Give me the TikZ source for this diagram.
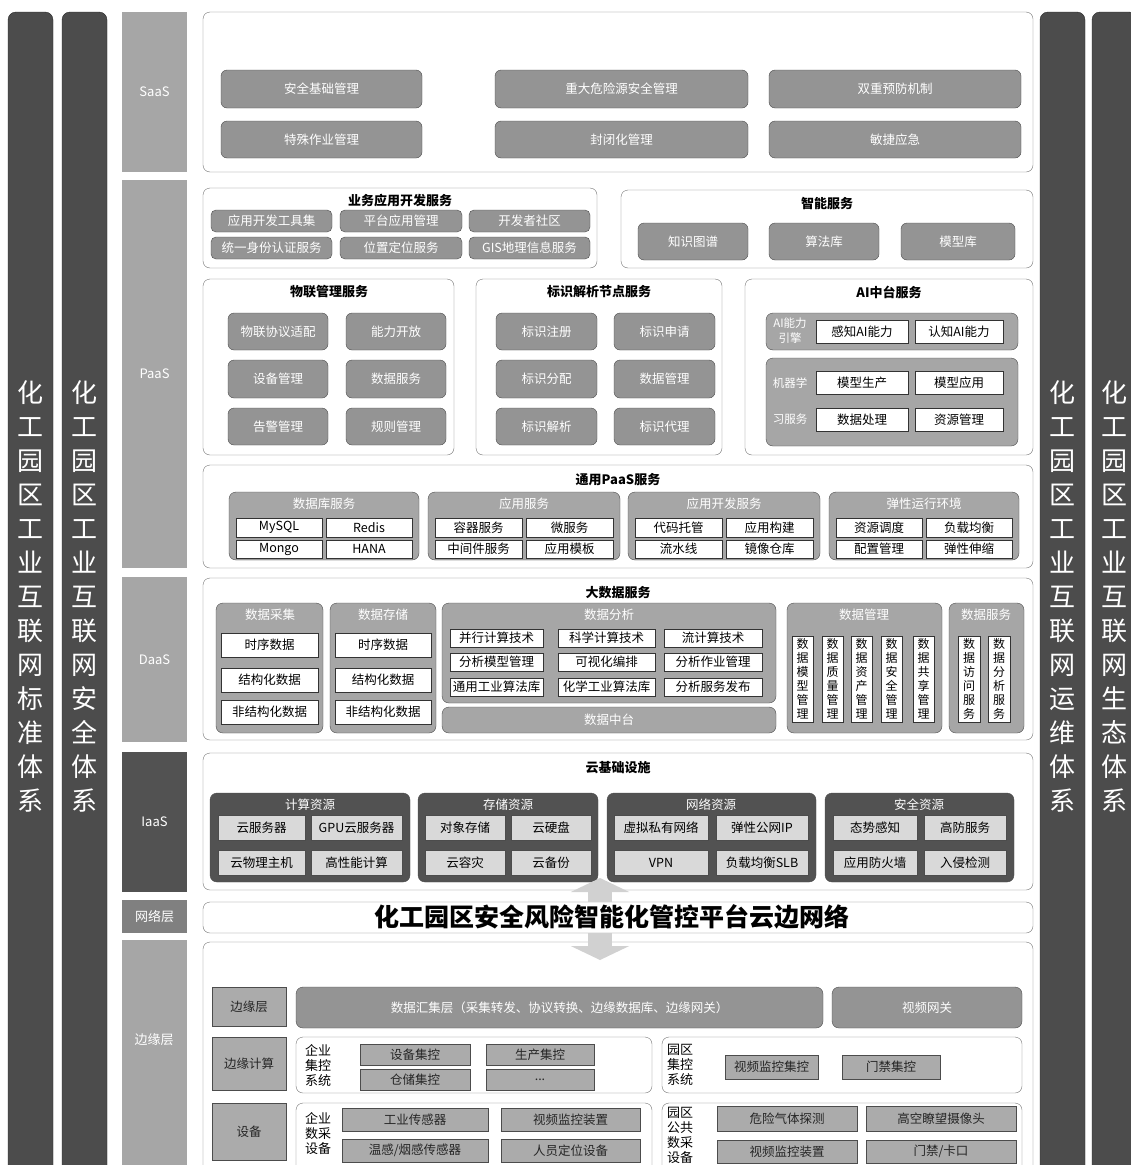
\documentclass[tikz,border=0pt]{standalone}
\usepackage{fontspec}
\setmainfont{Noto Sans CJK SC}
\usetikzlibrary{positioning, arrows.meta}

% box from corner (#3,#4) to corner (#5,#6), in pixels of the picture
\newcommand{\blk}[7][]{%
  \pgfmathsetmacro{\blkw}{#5-#3}\pgfmathsetmacro{\blkh}{#6-#4}%
  \node[minimum width=\blkw pt, minimum height=\blkh pt, #1] (#2) at ({(#3+#5)/2},{(#4+#6)/2}) {#7};}

\begin{document}
\begin{tikzpicture}[x=1pt, y=-1pt,
    every node/.style={align=center, inner sep=1pt, font=\fontsize{12.5}{15}\selectfont},
    bar/.style={draw=black!85, fill=black!70, rounded corners=8pt, text=white, font=\fontsize{26}{34}\selectfont},
    layer/.style={fill=black!35, text=white, font=\fontsize{13}{15}\selectfont},
    panel/.style={draw=black!55, fill=white, rounded corners=7pt},
    head/.style={font=\bfseries\fontsize{13}{15}\selectfont},
    gbox/.style={draw=black!70, fill=black!42, rounded corners=6pt, text=white},
    group/.style={draw=black!70, fill=black!35, rounded corners=7pt},
    ghead/.style={text=white},
    wbox/.style={draw=black!80, fill=white},
    vbox/.style={wbox, font=\fontsize{12}{14}\selectfont},
    dgroup/.style={group, fill=black!68},
    lbox/.style={draw=black!70, fill=black!15},
    ebox/.style={draw=black!70, fill=black!33, text=black!85},
    elabel/.style={font=\fontsize{13}{15}\selectfont},
    flow/.style={draw=black!18, line width=24pt, -{Triangle[length=14pt, width=58pt]}}
]
\useasboundingbox (0,0) rectangle (1131,1165);
\fill[white] (0,0) rectangle (1131,1165);

% side systems
\blk[bar]{standard}{8}{12}{53}{1180}{化\\工\\园\\区\\工\\业\\互\\联\\网\\标\\准\\体\\系}
\blk[bar]{security}{62}{12}{107}{1180}{化\\工\\园\\区\\工\\业\\互\\联\\网\\安\\全\\体\\系}
\blk[bar]{operation}{1040}{12}{1085}{1180}{化\\工\\园\\区\\工\\业\\互\\联\\网\\运\\维\\体\\系}
\blk[bar]{ecology}{1092}{12}{1137}{1180}{化\\工\\园\\区\\工\\业\\互\\联\\网\\生\\态\\体\\系}

% layer labels
\blk[layer]{lsaas}{122}{12}{187}{172}{SaaS}
\blk[layer]{lpaas}{122}{180}{187}{568}{PaaS}
\blk[layer]{ldaas}{122}{577}{187}{742}{DaaS}
\blk[layer, fill=black!68]{liaas}{122}{752}{187}{892}{IaaS}
\blk[layer, fill=black!50]{lnet}{122}{900}{187}{933}{网络层}
\blk[layer]{ledge}{122}{940}{187}{1180}{}
\node[layer, fill=none] (ledgeT) at (154,1040) {边缘层};

% SaaS
\blk[panel]{saas}{203}{12}{1033}{172}{}
\blk[gbox]{s1}{221}{70}{422}{108}{安全基础管理}
\blk[gbox]{s2}{495}{70}{748}{108}{重大危险源安全管理}
\blk[gbox]{s3}{769}{70}{1021}{108}{双重预防机制}
\blk[gbox]{s4}{221}{121}{422}{158}{特殊作业管理}
\blk[gbox]{s5}{495}{121}{748}{158}{封闭化管理}
\blk[gbox]{s6}{769}{121}{1021}{158}{敏捷应急}

% PaaS: business application development
\blk[panel]{appdev}{203}{188}{597}{268}{}
\node[head] (appdevT) at (400,201) {业务应用开发服务};
\blk[gbox, rounded corners=5pt]{a1}{211}{210}{332}{232}{应用开发工具集}
\blk[gbox, rounded corners=5pt]{a2}{340}{210}{462}{232}{平台应用管理}
\blk[gbox, rounded corners=5pt]{a3}{469}{210}{590}{232}{开发者社区}
\blk[gbox, rounded corners=5pt]{a4}{211}{237}{332}{259}{统一身份认证服务}
\blk[gbox, rounded corners=5pt]{a5}{340}{237}{462}{259}{位置定位服务}
\blk[gbox, rounded corners=5pt]{a6}{469}{237}{590}{259}{GIS地理信息服务}

% PaaS: intelligent services
\blk[panel]{smart}{621}{190}{1033}{268}{}
\node[head] (smartT) at (827,204) {智能服务};
\blk[gbox]{i1}{638}{223}{748}{260}{知识图谱}
\blk[gbox]{i2}{769}{223}{879}{260}{算法库}
\blk[gbox]{i3}{901}{223}{1015}{260}{模型库}

% PaaS: IoT management
\blk[panel]{iot}{203}{279}{454}{455}{}
\node[head] (iotT) at (329,292) {物联管理服务};
\blk[gbox]{o1}{228}{313}{328}{350}{物联协议适配}
\blk[gbox]{o2}{346}{313}{446}{350}{能力开放}
\blk[gbox]{o3}{228}{360}{328}{398}{设备管理}
\blk[gbox]{o4}{346}{360}{446}{398}{数据服务}
\blk[gbox]{o5}{228}{408}{328}{445}{告警管理}
\blk[gbox]{o6}{346}{408}{446}{445}{规则管理}

% PaaS: identifier resolution
\blk[panel]{ident}{476}{279}{722}{455}{}
\node[head] (identT) at (599,292) {标识解析节点服务};
\blk[gbox]{d1}{496}{313}{597}{350}{标识注册}
\blk[gbox]{d2}{614}{313}{715}{350}{标识申请}
\blk[gbox]{d3}{496}{360}{597}{398}{标识分配}
\blk[gbox]{d4}{614}{360}{715}{398}{数据管理}
\blk[gbox]{d5}{496}{408}{597}{445}{标识解析}
\blk[gbox]{d6}{614}{408}{715}{445}{标识代理}

% PaaS: AI platform
\blk[panel]{ai}{745}{279}{1033}{455}{}
\node[head] (aiT) at (889,292) {AI中台服务};
\blk[group]{aiengine}{766}{313}{1018}{350}{}
\node[ghead, font=\fontsize{11.5}{15}\selectfont] (aiengineT) at (790,331) {AI能力\\引擎};
\blk[wbox]{ai1}{816}{320}{908}{343}{感知AI能力}
\blk[wbox]{ai2}{915}{320}{1003}{343}{认知AI能力}
\blk[group]{ml}{766}{358}{1018}{446}{}
\node[ghead, font=\fontsize{11.5}{36}\selectfont] (mlT) at (790,401) {机器学\\习服务};
\blk[wbox]{ml1}{816}{371}{908}{394}{模型生产}
\blk[wbox]{ml2}{915}{371}{1003}{394}{模型应用}
\blk[wbox]{ml3}{816}{408}{908}{431}{数据处理}
\blk[wbox]{ml4}{915}{408}{1003}{431}{资源管理}

% PaaS: general services
\blk[panel]{gpaas}{203}{465}{1033}{568}{}
\node[head] (gpaasT) at (618,480) {通用PaaS服务};
\blk[group]{db}{229}{492}{419}{560}{}
\node[ghead] (dbT) at (324,504) {数据库服务};
\blk[wbox]{db1}{236}{518}{322}{537}{MySQL}
\blk[wbox]{db2}{326}{518}{412}{537}{Redis}
\blk[wbox]{db3}{236}{540}{322}{558}{Mongo}
\blk[wbox]{db4}{326}{540}{412}{558}{HANA}
\blk[group]{apps}{428}{492}{620}{560}{}
\node[ghead] (appsT) at (524,504) {应用服务};
\blk[wbox]{ap1}{435}{518}{522}{537}{容器服务}
\blk[wbox]{ap2}{526}{518}{613}{537}{微服务}
\blk[wbox]{ap3}{435}{540}{522}{558}{中间件服务}
\blk[wbox]{ap4}{526}{540}{613}{558}{应用模板}
\blk[group]{devops}{628}{492}{820}{560}{}
\node[ghead] (devopsT) at (724,504) {应用开发服务};
\blk[wbox]{dv1}{635}{518}{722}{537}{代码托管}
\blk[wbox]{dv2}{726}{518}{813}{537}{应用构建}
\blk[wbox]{dv3}{635}{540}{722}{558}{流水线}
\blk[wbox]{dv4}{726}{540}{813}{558}{镜像仓库}
\blk[group]{runtime}{829}{492}{1019}{560}{}
\node[ghead] (runtimeT) at (924,504) {弹性运行环境};
\blk[wbox]{rt1}{836}{518}{922}{537}{资源调度}
\blk[wbox]{rt2}{926}{518}{1012}{537}{负载均衡}
\blk[wbox]{rt3}{836}{540}{922}{558}{配置管理}
\blk[wbox]{rt4}{926}{540}{1012}{558}{弹性伸缩}

% DaaS
\blk[panel]{bigdata}{203}{578}{1033}{740}{}
\node[head] (bigdataT) at (618,593) {大数据服务};
\blk[group]{collect}{216}{603}{323}{733}{}
\node[ghead] (collectT) at (270,615) {数据采集};
\blk[wbox]{c1}{221}{633}{318}{657}{时序数据}
\blk[wbox]{c2}{221}{668}{318}{692}{结构化数据}
\blk[wbox]{c3}{221}{700}{318}{724}{非结构化数据}
\blk[group]{store}{330}{603}{436}{733}{}
\node[ghead] (storeT) at (383,615) {数据存储};
\blk[wbox]{t1}{335}{633}{431}{657}{时序数据}
\blk[wbox]{t2}{335}{668}{431}{692}{结构化数据}
\blk[wbox]{t3}{335}{700}{431}{724}{非结构化数据}
\blk[group]{analyse}{442}{603}{776}{703}{}
\node[ghead] (analyseT) at (609,615) {数据分析};
\blk[wbox]{n1}{450}{629}{543}{647}{并行计算技术}
\blk[wbox]{n2}{558}{629}{655}{647}{科学计算技术}
\blk[wbox]{n3}{664}{629}{762}{647}{流计算技术}
\blk[wbox]{n4}{450}{653}{543}{671}{分析模型管理}
\blk[wbox]{n5}{558}{653}{655}{671}{可视化编排}
\blk[wbox]{n6}{664}{653}{762}{671}{分析作业管理}
\blk[wbox]{n7}{450}{678}{543}{696}{通用工业算法库}
\blk[wbox]{n8}{558}{678}{655}{696}{化学工业算法库}
\blk[wbox]{n9}{664}{678}{762}{696}{分析服务发布}
\blk[group]{midplat}{442}{707}{776}{733}{\textcolor{white}{数据中台}}
\blk[group]{govern}{787}{603}{942}{733}{}
\node[ghead] (governT) at (864,615) {数据管理};
\blk[vbox]{g1}{792}{636}{813}{722}{数\\据\\模\\型\\管\\理}
\blk[vbox]{g2}{822}{636}{843}{722}{数\\据\\质\\量\\管\\理}
\blk[vbox]{g3}{851}{636}{872}{722}{数\\据\\资\\产\\管\\理}
\blk[vbox]{g4}{881}{636}{902}{722}{数\\据\\安\\全\\管\\理}
\blk[vbox]{g5}{913}{636}{934}{722}{数\\据\\共\\享\\管\\理}
\blk[group]{dserv}{949}{603}{1024}{733}{}
\node[ghead] (dservT) at (986,615) {数据服务};
\blk[vbox]{v1}{958}{636}{980}{722}{数\\据\\访\\问\\服\\务}
\blk[vbox]{v2}{988}{636}{1010}{722}{数\\据\\分\\析\\服\\务}

% IaaS
\blk[panel]{iaas}{203}{753}{1033}{890}{}
\node[head] (iaasT) at (618,768) {云基础设施};
\blk[dgroup]{compute}{210}{793}{410}{882}{}
\node[ghead] (computeT) at (310,805) {计算资源};
\blk[lbox]{cp1}{218}{815}{305}{840}{云服务器}
\blk[lbox]{cp2}{311}{815}{402}{840}{GPU云服务器}
\blk[lbox]{cp3}{218}{850}{305}{875}{云物理主机}
\blk[lbox]{cp4}{311}{850}{402}{875}{高性能计算}
\blk[dgroup]{storage}{418}{793}{598}{882}{}
\node[ghead] (storageT) at (508,805) {存储资源};
\blk[lbox]{sg1}{425}{815}{505}{840}{对象存储}
\blk[lbox]{sg2}{511}{815}{591}{840}{云硬盘}
\blk[lbox]{sg3}{425}{850}{505}{875}{云容灾}
\blk[lbox]{sg4}{511}{850}{591}{875}{云备份}
\blk[dgroup]{network}{607}{793}{816}{882}{}
\node[ghead] (networkT) at (711,805) {网络资源};
\blk[lbox]{nw1}{614}{815}{708}{840}{虚拟私有网络}
\blk[lbox]{nw2}{716}{815}{808}{840}{弹性公网IP}
\blk[lbox]{nw3}{614}{850}{708}{875}{VPN}
\blk[lbox]{nw4}{716}{850}{808}{875}{负载均衡SLB}
\blk[dgroup]{secure}{825}{793}{1014}{882}{}
\node[ghead] (secureT) at (919,805) {安全资源};
\blk[lbox]{sc1}{833}{815}{917}{840}{态势感知}
\blk[lbox]{sc2}{924}{815}{1006}{840}{高防服务}
\blk[lbox]{sc3}{833}{850}{917}{875}{应用防火墙}
\blk[lbox]{sc4}{924}{850}{1006}{875}{入侵检测}

% network layer
\blk[panel]{net}{203}{902}{1033}{933}{}
\node[font=\bfseries\fontsize{25}{27}\selectfont] (netT) at (612,917) {化工园区安全风险智能化管控平台云边网络};

% edge layer
\blk[panel]{edge}{203}{942}{1033}{1180}{}
\blk[ebox]{r1}{212}{987}{286}{1026}{边缘层}
\blk[gbox, rounded corners=7pt]{gather}{296}{987}{823}{1028}{数据汇集层（采集转发、协议转换、边缘数据库、边缘网关）}
\blk[gbox, rounded corners=7pt]{vgate}{832}{987}{1022}{1028}{视频网关}
\blk[ebox]{r2}{212}{1037}{286}{1090}{边缘计算}
\blk[panel]{entctl}{296}{1037}{652}{1093}{}
\node[elabel] (entctlT) at (318,1065) {企业\\集控\\系统};
\blk[ebox]{ec1}{360}{1044}{470}{1065}{设备集控}
\blk[ebox]{ec2}{486}{1044}{594}{1065}{生产集控}
\blk[ebox]{ec3}{360}{1069}{470}{1090}{仓储集控}
\blk[ebox]{ec4}{486}{1069}{594}{1090}{...}
\blk[panel]{parkctl}{662}{1037}{1022}{1093}{}
\node[elabel] (parkctlT) at (680,1065) {园区\\集控\\系统};
\blk[ebox]{pc1}{725}{1055}{818}{1079}{视频监控集控}
\blk[ebox]{pc2}{842}{1055}{940}{1079}{门禁集控}
\blk[ebox]{r3}{212}{1103}{286}{1160}{设备}
\blk[panel]{entdev}{296}{1103}{652}{1172}{}
\node[elabel] (entdevT) at (318,1134) {企业\\数采\\设备};
\blk[ebox]{ed1}{342}{1108}{488}{1131}{工业传感器}
\blk[ebox]{ed2}{501}{1108}{640}{1131}{视频监控装置}
\blk[ebox]{ed3}{342}{1139}{488}{1162}{温感/烟感传感器}
\blk[ebox]{ed4}{501}{1139}{640}{1162}{人员定位设备}
\blk[panel]{parkdev}{662}{1103}{1022}{1172}{}
\node[elabel] (parkdevT) at (680,1135) {园区\\公共\\数采\\设备};
\blk[ebox]{pd1}{717}{1106}{857}{1131}{危险气体探测}
\blk[ebox]{pd2}{866}{1106}{1016}{1131}{高空瞭望摄像头}
\blk[ebox]{pd3}{717}{1140}{857}{1163}{视频监控装置}
\blk[ebox]{pd4}{866}{1140}{1016}{1163}{门禁/卡口}

% flows through the network layer
\coordinate (uptip) at (600,878);
\coordinate (downtip) at (600,960);
\draw[flow] ([xshift=-18pt]net.north) -- (uptip);
\draw[flow] ([xshift=-18pt]net.south) -- (downtip);
\end{tikzpicture}
\end{document}
